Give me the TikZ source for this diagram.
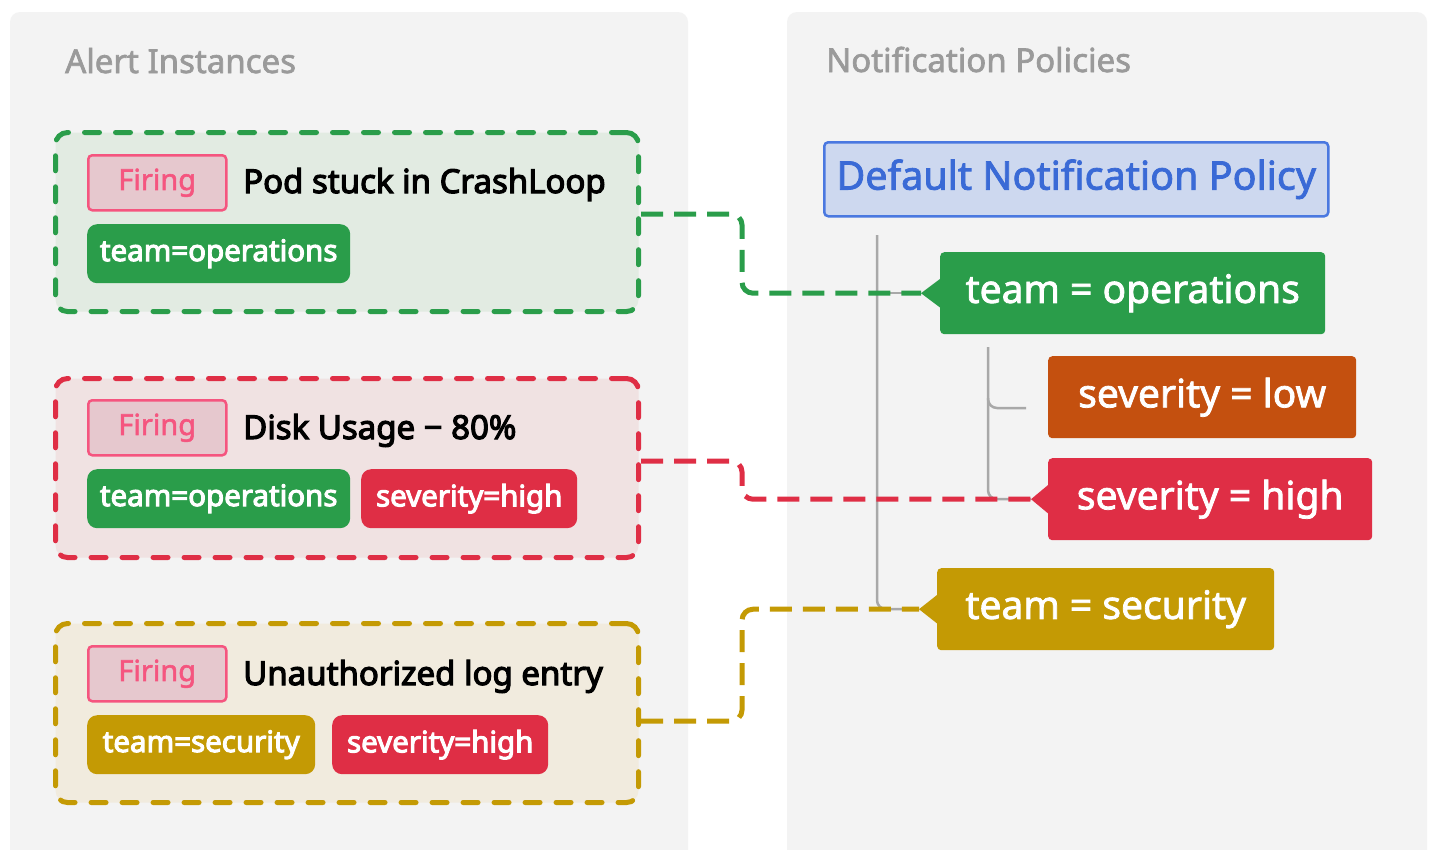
\documentclass[tikz,border=0pt]{standalone}
\usepackage{fontspec}
\setmainfont{Noto Sans}
\newfontfamily\semib{Noto Sans}[FakeBold=3.5]
\newfontfamily\medi{Noto Sans}[FakeBold=2]
\usetikzlibrary{calc}
\definecolor{panel}{HTML}{F3F3F3}
\definecolor{gr}{HTML}{2A9D4A}
\definecolor{grbg}{HTML}{E2EBE2}
\definecolor{rd}{HTML}{DF2E45}
\definecolor{rdbg}{HTML}{F0E2E2}
\definecolor{ye}{HTML}{C49A04}
\definecolor{yebg}{HTML}{F1EBDE}
\definecolor{orng}{HTML}{C4500F}
\definecolor{firepink}{HTML}{F5557F}
\definecolor{firebg}{HTML}{E6C8CE}
\definecolor{headgray}{HTML}{9A9A9A}
\definecolor{treegray}{HTML}{A8A8A8}
\definecolor{bluetxt}{HTML}{3A6AD6}
\definecolor{bluebg}{HTML}{CDD8EF}
\definecolor{blueline}{HTML}{4A78E0}
\tikzset{
  heading/.style={text=headgray, font=\medi\fontsize{33}{38}\selectfont, inner sep=0pt},
  abox/.style={line width=5pt, dash pattern=on 15pt off 16pt, line cap=round, rounded corners=12pt, minimum width=583pt, minimum height=179pt, anchor=north west},
  firing/.style={draw=firepink, fill=firebg, line width=2.5pt, rounded corners=4pt, text=firepink, minimum width=138pt, minimum height=55pt, anchor=north west, inner sep=0pt, font=\medi\fontsize{29}{34}\selectfont},
  atitle/.style={anchor=base west, inner sep=0pt, font=\semib\fontsize{33}{38}\selectfont},
  atag/.style={rounded corners=10pt, text=white, minimum height=59pt, anchor=north west, inner sep=0pt, font=\semib\fontsize{29.5}{34}\selectfont},
  ptag/.style={rounded corners=4pt, text=white, minimum height=82pt, anchor=north west, inner sep=0pt, font=\medi\fontsize{39}{44}\selectfont},
  tree/.style={draw=treegray, line width=2.5pt, rounded corners=9pt},
  conn/.style={line width=5pt, dash pattern=on 22pt off 11pt, rounded corners=11pt},
}
\begin{document}
\begin{tikzpicture}[x=1pt,y=-1pt]
\useasboundingbox (0,0) rectangle (1432,849);
\fill[white] (0,0) rectangle (1432,849);
% panels
\fill[panel, rounded corners=10pt] (10,12) rectangle (688,880);
\fill[panel, rounded corners=10pt] (787,12) rectangle (1427,880);
\node[heading, anchor=base west] (lhead) at (65,73) {Alert Instances};
\node[heading, anchor=base west] (rhead) at (826,72) {Notification Policies};

% alert boxes
\node[abox, draw=gr, fill=grbg] (gbox) at (53,130) {};
\node[abox, draw=rd, fill=rdbg] (rbox) at (53,376) {};
\node[abox, draw=ye, fill=yebg] (ybox) at (53,621) {};

\node[firing] (f1) at (87,154) {Firing};
\node[atitle] (t1) at (243,193) {Pod stuck in CrashLoop};
\node[atag, fill=gr, minimum width=263pt] (g1) at (87,224) {team=operations};

\node[firing] (f2) at (87,399) {Firing};
\node[atitle] (t2) at (243,439) {Disk Usage − 80\%};
\node[atag, fill=gr, minimum width=263pt] (g2) at (87,469) {team=operations};
\node[atag, fill=rd, minimum width=216pt] (s2) at (361,469) {severity=high};

\node[firing] (f3) at (87,645) {Firing};
\node[atitle] (t3) at (243,685) {Unauthorized log entry};
\node[atag, fill=ye, minimum width=228pt] (g3) at (87,715) {team=security};
\node[atag, fill=rd, minimum width=216pt] (s3) at (332,715) {severity=high};

% default policy
\node[draw=blueline, fill=bluebg, line width=2.5pt, rounded corners=4pt, text=bluetxt, minimum width=504pt, minimum height=74pt, anchor=north west, inner sep=0pt, font=\medi\fontsize{39.5}{45}\selectfont] (dnp) at (823,141) {Default Notification Policy};

% policy tags
\node[ptag, fill=gr, minimum width=385pt] (pop) at (940,252) {team = operations};
\node[ptag, fill=orng, minimum width=308pt] (plow) at (1048,356) {severity = low};
\node[ptag, fill=rd, minimum width=324pt] (phigh) at (1048,458) {severity = high};
\node[ptag, fill=ye, minimum width=337pt] (psec) at (937,568) {team = security};
\coordinate (popt) at ($(pop.west)+(-19,0)$);
\coordinate (phight) at ($(phigh.west)+(-17,0)$);
\coordinate (psect) at ($(psec.west)+(-18,0)$);
\fill[gr] ($(pop.west)+(1,-15)$) -- (popt) -- ($(pop.west)+(1,15)$) -- cycle;
\fill[rd] ($(phigh.west)+(1,-15)$) -- (phight) -- ($(phigh.west)+(1,15)$) -- cycle;
\fill[ye] ($(psec.west)+(1,-15)$) -- (psect) -- ($(psec.west)+(1,15)$) -- cycle;

% tree lines
\coordinate (tr1) at (877,235);
\coordinate (tr2) at (988,347);
\coordinate (lowend) at (1026,408);
\draw[tree] (tr1) -- (tr1 |- psect) -- (psect);
\draw[tree, rounded corners=0pt] (tr1 |- popt) -- (popt);
\draw[tree] (tr2) -- (tr2 |- phight) -- (phight);
\draw[tree] (tr2 |- lowend) ++(0,-10) -- (tr2 |- lowend) -- (lowend);

% connectors
\coordinate (cx) at (742,0);
\draw[conn, gr] ([yshift=8pt]gbox.east) -| (cx |- popt) -- (popt);
\draw[conn, rd] ([yshift=7pt]rbox.east) -| (cx |- phight) -- (phight);
\draw[conn, ye] ([yshift=-8pt]ybox.east) -| (cx |- psect) -- (psect);
\end{tikzpicture}
\end{document}
